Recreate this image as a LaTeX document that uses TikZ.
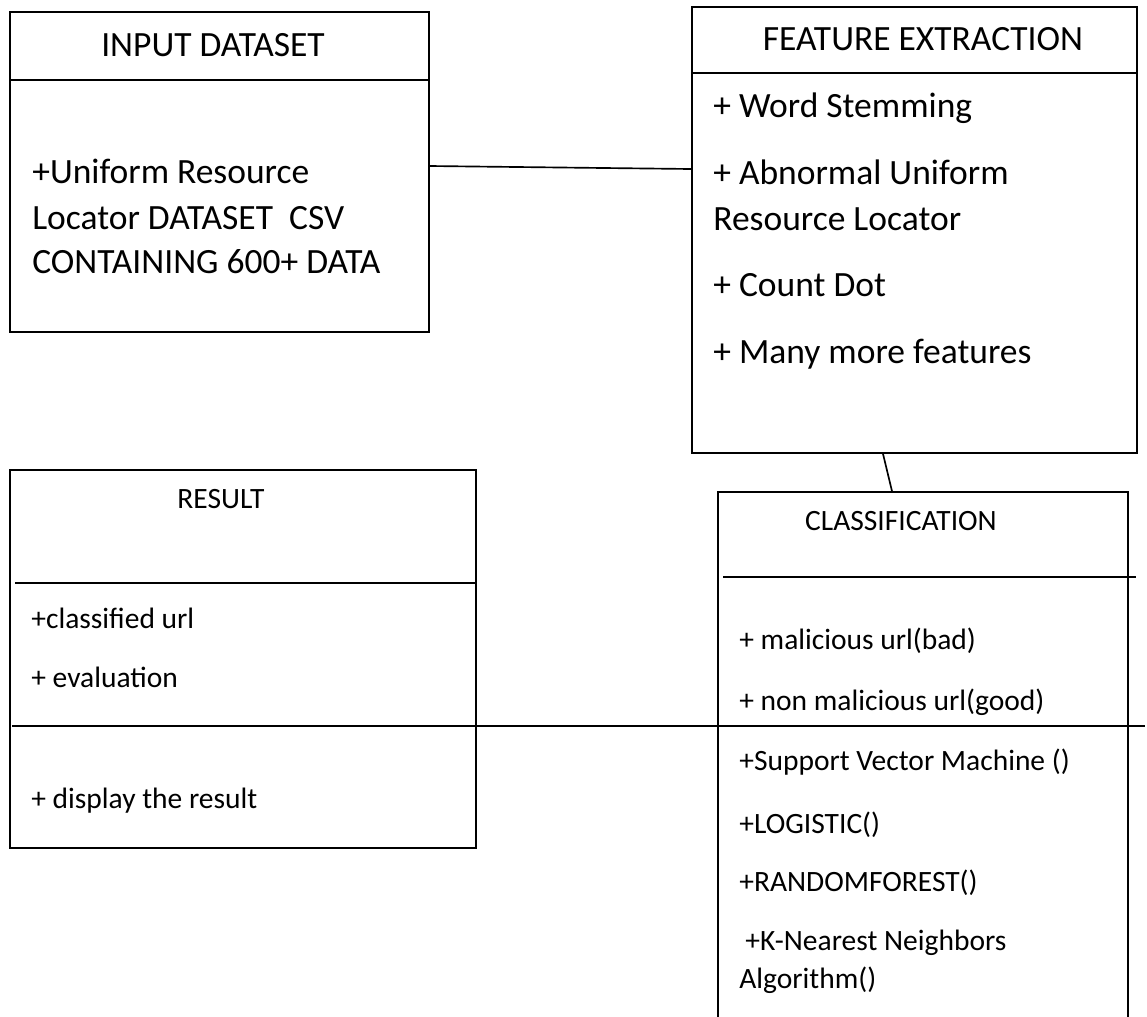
\documentclass[tikz,border=0pt]{standalone}
\usepackage{fontspec}
\setmainfont{Carlito}
\usetikzlibrary{calc}

\tikzset{
  classbox/.style={draw,line width=1pt,inner sep=0pt},
  bigtext/.style={font=\fontsize{21.3}{25}\selectfont,inner sep=0pt},
  smalltext/.style={font=\fontsize{17.7}{21}\selectfont,inner sep=0pt},
  member/.style={anchor=base west},
  divider/.style={line width=1pt}
}
\def\u{0.6pt}

\begin{document}
\begin{tikzpicture}[x=0.6pt,y=-0.6pt]
  \useasboundingbox (0,0) rectangle (1147,1017);
  \clip (0,0) rectangle (1147,1017);
  % class boxes (pixel grid, y down)
  \node[classbox,minimum width=419*\u,minimum height=320*\u] (input) at (219.5,172) {};
  \node[classbox,minimum width=445*\u,minimum height=446*\u] (feature) at (914.5,230) {};
  \node[classbox,minimum width=466*\u,minimum height=378*\u] (result) at (243,659) {};
  % classification box runs off the bottom edge
  \node[classbox,minimum width=410*\u,minimum height=538*\u] (classif) at (923,761) {};

  % compartment lines
  \draw[divider] (10,80) -- (429,80);
  \draw[divider] (692,73) -- (1137,73);
  \draw[divider] (15,583) -- (477,583);
  \draw[divider] (723,577) -- (1136,577);
  \draw[divider] (12,726) -- (1145,726);

  % titles
  \node[bigtext,anchor=base] (inputtitle) at (213,56) {INPUT DATASET};
  \node[bigtext,anchor=base] (featuretitle) at (923,50) {FEATURE EXTRACTION};
  \node[smalltext,anchor=base] (resulttitle) at (221,508) {RESULT};
  \node[smalltext,anchor=base] (classiftitle) at (901,530) {CLASSIFICATION};

  % members
  \foreach \i/\y/\txt in {1/183/{+Uniform Resource},
    2/229/{Locator DATASET\ \ CSV}, 3/273/{CONTAINING 600+ DATA}} {
    \node[bigtext,member] (in\i) at (32,\y) {\txt};
  }
  \foreach \i/\y/\txt in {1/117/{+ Word Stemming}, 2/184/{+ Abnormal Uniform},
    3/230/{Resource Locator}, 4/296/{+ Count Dot}, 5/363/{+ Many more features}} {
    \node[bigtext,member] (fe\i) at (713,\y) {\txt};
  }
  \foreach \i/\y/\txt in {1/628/{+classified url}, 2/687/{+ evaluation},
    3/808/{+ display the result}} {
    \node[smalltext,member] (re\i) at (31,\y) {\txt};
  }
  \foreach \i/\x/\y/\txt in {1/739/649/{+ malicious url(bad)},
    2/739/710/{+ non malicious url(good)}, 3/739/770/{+Support Vector Machine ()},
    4/739/833/{+LOGISTIC()}, 5/739/891/{+RANDOMFOREST()},
    6/745/950/{+K-Nearest Neighbors}, 7/739/988/{Algorithm()}} {
    \node[smalltext,member] (cl\i) at (\x,\y) {\txt};
  }

  % associations
  \draw[divider] ($(input.east)+(0,-6)$) -- ($(feature.west)+(0,-61)$);
  \draw[divider] ($(feature.south)+(-31.5,0)$) -- ($(classif.north)+(-31,0)$);
\end{tikzpicture}
\end{document}
